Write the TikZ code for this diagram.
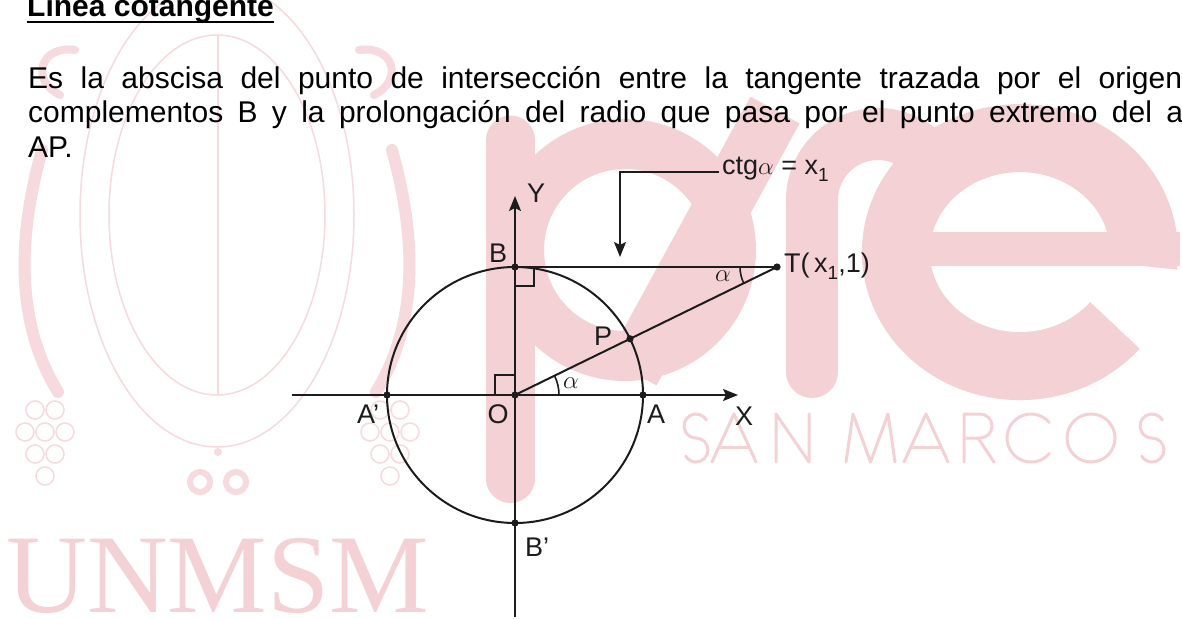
\documentclass[tikz,border=0pt]{standalone}
\usepackage{fontspec}
\setmainfont{Liberation Sans}
\newfontfamily\wmserif{Liberation Serif}
\usetikzlibrary{arrows.meta,calc}
\definecolor{wm}{RGB}{244,209,213}
\definecolor{wmsoft}{RGB}{246,218,221}
\definecolor{ink}{RGB}{28,28,28}
\newcommand\lowidx[1]{\raisebox{-0.27em}{\fontsize{19}{19}\selectfont #1}}

\tikzset{
  body/.style={inner sep=0pt, anchor=base west, font=\fontsize{30}{35}\selectfont},
  lbl/.style={inner sep=0pt, text=ink, font=\fontsize{27}{32}\selectfont},
  geo/.style={draw=ink, line width=2pt},
  thin/.style={draw=ink, line width=1.6pt},
  tip/.style={-{Stealth[length=15pt,width=12pt,inset=3pt]}},
  dot/.style={fill=ink},
  wmline/.style={draw=wm, line width=3pt, line cap=round, line join=round},
  seal/.style={draw=wmsoft, line width=1.5pt},
  % letters of the light lettering, drawn in a 48-high box
  letS/.pic={\draw[wmline] (24.4,6) arc[start angle=-30,end angle=-270,radius=12]
               arc[start angle=-90,end angle=150,radius=12];},
  letA/.pic={\draw[wmline] (0,48) -- (22,0) -- (44,48); \draw[wmline] (7,33) -- (37,33);},
  letN/.pic={\draw[wmline] (0,48) -- (0,0) -- (33,48) -- (33,0);},
  letM/.pic={\draw[wmline] (0,48) -- (7,0) -- (24.5,48) -- (42,0) -- (49,48);},
  letR/.pic={\draw[wmline] (0,48) -- (0,0) -- (16,0) arc[start angle=-90,end angle=90,radius=12] -- (0,24);
             \draw[wmline] (14,24) -- (30,48);},
  letC/.pic={\draw[wmline] (42.4,8.6) arc[start angle=-40,end angle=-320,radius=24];},
  letO/.pic={\draw[wmline] (24,24) circle[radius=24];}
}

\begin{document}
\begin{tikzpicture}[x=1pt,y=-1pt]
\useasboundingbox (0,0) rectangle (1182,618);
\fill[white] (0,0) rectangle (1182,618);

\begin{scope}
\clip (0,0) rectangle (1182,618);

% ---- seal (faint outline) ----
\draw[seal] (217,215) ellipse [x radius=137, y radius=232];
\draw[seal] (217,215) ellipse [x radius=108, y radius=180];
\draw[seal] (218,35) -- (218,395);
\draw[wmsoft, line width=12pt, line cap=round] (42,150) .. controls (14,250) and (20,330) .. (58,392);
\draw[wmsoft, line width=12pt, line cap=round] (392,150) .. controls (420,250) and (414,330) .. (376,392);
\draw[wmsoft, line width=8pt, line cap=round] (60,95) .. controls (30,80) and (40,45) .. (75,50);
\draw[wmsoft, line width=8pt, line cap=round] (374,95) .. controls (404,80) and (394,45) .. (359,50);
\foreach \gx/\gy in {35/410,55/410,25/432,45/432,65/432,35/454,55/454,45/476,
                     380/410,400/410,370/432,390/432,410/432,380/454,400/454,390/476}
  \draw[seal] (\gx,\gy) circle[radius=9];
\fill[wmsoft] (218,452) circle[radius=4];
\draw[wmsoft, line width=6pt] (200,482) circle[radius=10];
\draw[wmsoft, line width=6pt] (236,482) circle[radius=10];

% ---- large lettering "pre" ----
\draw[wm, line width=49pt, line cap=round] (510.5,140) -- (510.5,478.5);
\draw[wm, line width=50pt] (625,250) circle[radius=106];
\draw[wm, line width=56pt] (632,372) -- (775,110);
\draw[wm, line width=52pt, line cap=round] (812,372) -- (812,200);
\draw[wm, line width=52pt] (812,200) arc[start angle=180,end angle=320,radius=66];
\draw[wm, line width=68pt] (1143,266) arc[start angle=7,end angle=-320,x radius=124,y radius=114];
\fill[wm] (925,232) rectangle (1180,266);

% ---- light lettering ----
\pic at (682,414) {letS};
\pic at (712,414) {letA};
\pic at (776,414) {letN};
\pic at (846,414) {letM};
\pic at (904,414) {letA};
\pic at (964,414) {letR};
\pic at (1007,414) {letC};
\pic at (1067,414) {letO};
\pic at (1138,414) {letS};
\node[inner sep=0pt, anchor=base west, text=wm, font=\wmserif\fontsize{112}{112}\selectfont] (unm) at (6,612) {UNMSM};
\end{scope}

% ---- text ----
\node[inner sep=0pt, anchor=base west, font=\bfseries\fontsize{30}{36}\selectfont] (title) at (27,17) {Línea cotangente};
\draw[line width=2.6pt] ($(title.base west)+(0,5)$) -- ($(title.base east)+(0,5)$);
\node[body] (line1) at (28,88) {\makebox[1154pt][s]{Es la abscisa del punto de intersección entre la tangente trazada por el origen}};
\node[body] (line2) at (28,122) {\makebox[1155pt][s]{complementos B y la prolongación del radio que pasa por el punto extremo del a}};
\node[body] (line3) at (28,157) {AP.};

% ---- geometry ----
\coordinate (O) at (515,395);
\coordinate (A) at (643,395);
\coordinate (Ap) at (387,395);
\coordinate (B) at (515,267);
\coordinate (Bp) at (515,523);
\coordinate (T) at (777,267);
\coordinate (P) at ($(O)!128pt!(T)$);
\coordinate (xl) at (292,395);
\coordinate (xr) at (738,395);
\coordinate (yb) at (515,617);
\coordinate (yt) at (515,196);
\coordinate (ptr) at (620,257);

\draw[geo] (O) circle[radius=128];
\draw[geo, tip] (xl) -- (xr);
\draw[geo, tip] (yb) -- (yt);
\draw[geo] (B) -- (T);
\draw[geo] (O) -- (T);

% right angles
\draw[thin] ($(B)+(0,19)$) -- ($(B)+(19,19)$) -- ($(B)+(19,0)$);
\draw[thin] ($(O)+(-20,0)$) -- ($(O)+(-20,-20)$) -- ($(O)+(0,-20)$);

% angle marks
\draw[thin] ($(O)+(44,0)$) arc[start angle=0,end angle=-26.04,radius=44];
\draw[thin] ($(T)+(-37,0)$) arc[start angle=180,end angle=153.96,radius=37];

% points
\foreach \p in {O,A,Ap,B,Bp,T,P} \fill[dot] (\p) circle[radius=3.6];

% labels
\node[lbl] (lY) at (536,193) {Y};
\node[lbl] (lB) at (498,253) {B};
\node[lbl, anchor=west] (lT) at (784,266) {T(\,x\lowidx{1},1)};
\node[lbl] (lP) at (603,336) {P};
\node[lbl] (la1) at (571,383) {$\alpha$};
\node[lbl] (la2) at (723,276) {$\alpha$};
\node[lbl] (lAp) at (368,414) {A’};
\node[lbl] (lO) at (498,414) {O};
\node[lbl] (lA) at (656,414) {A};
\node[lbl] (lX) at (744,416) {X};
\node[lbl] (lBp) at (537,547) {B’};
\node[lbl, anchor=mid west] (ctg) at (722,172) {ctg$\alpha$ = x\lowidx{1}};
\draw[geo, tip] ([xshift=-3pt]ctg.mid west) -| (ptr);
\end{tikzpicture}
\end{document}
